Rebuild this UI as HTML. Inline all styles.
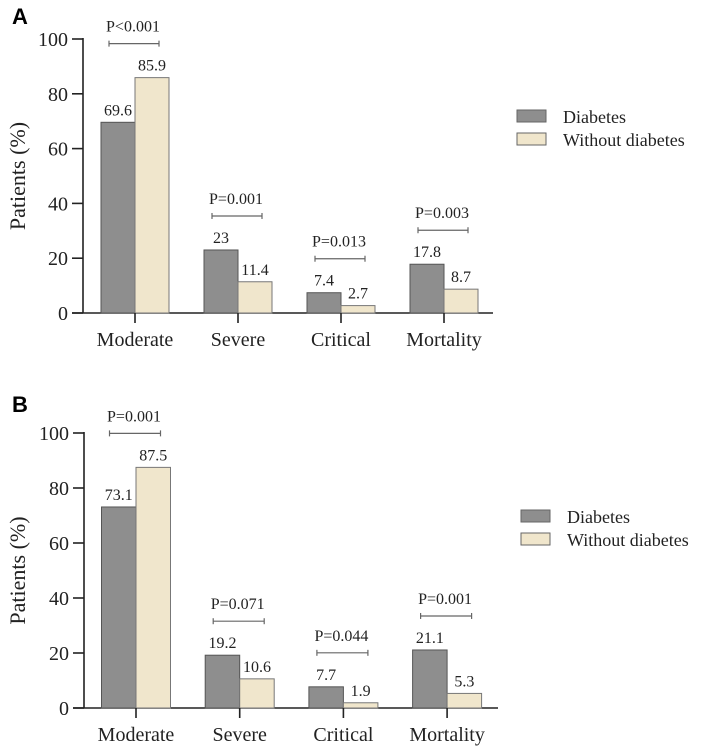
<!DOCTYPE html>
<html><head><meta charset="utf-8">
<style>
html,body{margin:0;padding:0;background:#fff;}
svg{display:block;}
svg text{font-family:"Liberation Serif","DejaVu Serif",serif;}
svg text.lbl{font-family:"Liberation Sans","DejaVu Sans",sans-serif;font-weight:bold;font-size:22px;}
</style></head>
<body>
<svg id="chart" width="703" height="750" viewBox="0 0 703 750"></svg>
<script>
const categories = ["Moderate","Severe","Critical","Mortality"];
const diabetesA = [69.6, 23, 7.4, 17.8];
const withoutA = [85.9, 11.4, 2.7, 8.7];
const pvalsA = ["P<0.001","P=0.001","P=0.013","P=0.003"];
const diabetesB = [73.1, 19.2, 7.7, 21.1];
const withoutB = [87.5, 10.6, 1.9, 5.3];
const pvalsB = ["P=0.001","P=0.071","P=0.044","P=0.001"];
const yTicks = [0,20,40,60,80,100];
const seriesNames = ["Diabetes","Without diabetes"];

const NS="http://www.w3.org/2000/svg";
const svg=document.getElementById('chart');
const SERIF='"Liberation Serif","DejaVu Serif",serif';
function mk(tag,attrs,parent,text){const e=document.createElementNS(NS,tag);for(const k in attrs)e.setAttribute(k,attrs[k]);if(tag==='text'&&!attrs['class'])e.setAttribute('font-family',SERIF);if(text!==undefined)e.textContent=text;(parent||svg).appendChild(e);return e;}

function panel(cfg){
  const g=mk('g',{});
  
  
  const y=v=>cfg.y0-(cfg.y0-cfg.y100)*v/100;
  const cx=i=>cfg.c0+i*cfg.step;
  const t=mk('text',{x:12,y:cfg.letterY,'class':'lbl'},g,cfg.letter);
  
  
  const ax=mk('line',{x1:cfg.ax,y1:cfg.y100-1,x2:cfg.ax,y2:cfg.y0,stroke:'#222','stroke-width':1.6},g);
  
  
  const xa=mk('line',{x1:cfg.ax-11,y1:cfg.y0,x2:cfg.xEnd,y2:cfg.y0,stroke:'#222','stroke-width':1.6},g);
  
  
  yTicks.forEach(v=>{
    mk('line',{x1:cfg.ax-11,y1:y(v),x2:cfg.ax,y2:y(v),stroke:'#222','stroke-width':1.6},g);
    const tl=mk('text',{x:cfg.ax-15,y:y(v)+7,'text-anchor':'end','font-size':20,fill:'#222'},g,String(v));
    
    
  });
  const yt=mk('text',{x:0,y:0,'text-anchor':'middle','font-size':22,fill:'#222',transform:`translate(25,${(cfg.y0+cfg.y100)/2}) rotate(-90)`},g,'Patients (%)');
  
  
  categories.forEach((c,i)=>{
    const x=cx(i), w=cfg.bw;
    const b1=mk('rect',{x:x-w,y:y(cfg.d[i]),width:w,height:cfg.y0-y(cfg.d[i]),fill:'#8e8e8e',stroke:'#555','stroke-width':1},g);
    
    
    const b2=mk('rect',{x:x,y:y(cfg.w[i]),width:w,height:cfg.y0-y(cfg.w[i]),fill:'#f0e6cc',stroke:'#777','stroke-width':1},g);
    
    
    const v1=mk('text',{x:x-w/2,y:y(cfg.d[i])-7,'text-anchor':'middle','font-size':16,fill:'#222'},g,String(cfg.d[i]));
    
    
    const v2=mk('text',{x:x+w/2,y:y(cfg.w[i])-7,'text-anchor':'middle','font-size':16,fill:'#222'},g,String(cfg.w[i]));
    
    
    mk('line',{x1:x,y1:cfg.y0,x2:x,y2:cfg.y0+10,stroke:'#222','stroke-width':1.6},g);
    const cl=mk('text',{x:x,y:cfg.y0+33,'text-anchor':'middle','font-size':20,fill:'#222'},g,c);
    
    
    const top=Math.max(cfg.d[i],cfg.w[i]);
    const by=y(top)-34;
    const br=mk('g',{},g);
    
    
    mk('line',{x1:x-w+8,y1:by,x2:x+w-10,y2:by,stroke:'#666','stroke-width':1.2},br);
    mk('line',{x1:x-w+8,y1:by-3,x2:x-w+8,y2:by+3,stroke:'#666','stroke-width':1.2},br);
    mk('line',{x1:x+w-10,y1:by-3,x2:x+w-10,y2:by+3,stroke:'#666','stroke-width':1.2},br);
    mk('text',{x:x-2,y:by-12,'text-anchor':'middle','font-size':16,fill:'#222'},br,cfg.p[i]);
  });
  const lg=mk('g',{},g);
  
  
  const cols=['#8e8e8e','#f0e6cc'];
  seriesNames.forEach((s,i)=>{
    const yy=cfg.legY+i*23;
    mk('rect',{x:cfg.legX,y:yy,width:29,height:12,fill:cols[i],stroke:'#666','stroke-width':1},lg);
    mk('text',{x:cfg.legX+46,y:yy+13,'font-size':18,fill:'#222'},lg,s);
  });
}
panel({name:'panel-a',letter:'A',letterY:24,d:diabetesA,w:withoutA,p:pvalsA,y0:313,y100:39,ax:83,xEnd:493,c0:135,step:103,bw:34,legX:517,legY:110});
panel({name:'panel-b',letter:'B',letterY:412,d:diabetesB,w:withoutB,p:pvalsB,y0:708,y100:433,ax:84,xEnd:498,c0:136,step:103.7,bw:34.5,legX:521,legY:510});
</script>
</body></html>
